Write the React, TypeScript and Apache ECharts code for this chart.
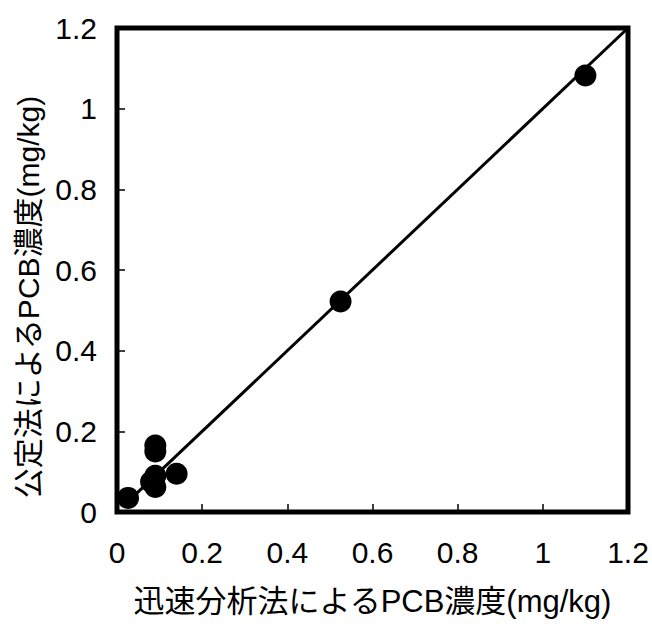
import React, { useEffect, useRef } from "react";
import * as echarts from "echarts";

const xTicks = [0, 0.2, 0.4, 0.6, 0.8, 1, 1.2];
const points: [number, number][] = [
  [0.026, 0.035],
  [0.08, 0.075],
  [0.09, 0.09],
  [0.09, 0.062],
  [0.09, 0.15],
  [0.09, 0.165],
  [0.14, 0.095],
  [0.525, 0.522],
  [1.1, 1.082],
];
const fitLine: [number, number][] = [
  [0.02, 0.02],
  [1.2, 1.2],
];
const xName = "迅速分析法によるPCB濃度(mg/kg)";
const yName = "公定法によるPCB濃度(mg/kg)";

const font = "'Liberation Sans Narrow', 'Liberation Sans', Arial, 'Noto Sans CJK JP', sans-serif";

export default function App() {
  const ref = useRef<HTMLDivElement>(null);
  useEffect(() => {
    if (!ref.current) return;
    const chart = echarts.init(ref.current, undefined, { renderer: "svg" });
    const axisCommon = {
      type: "value" as const,
      min: 0,
      max: 1.2,
      interval: 0.2,
      splitLine: { show: false },
      axisLine: { show: false },
      axisTick: { show: true, inside: true, length: 8, lineStyle: { color: "#000", width: 1.5 } },
      nameLocation: "middle" as const,
      nameTextStyle: { fontSize: 31, color: "#000", fontFamily: font },
    };
    chart.setOption({
      animation: false,
      backgroundColor: "#fff",
      grid: {
        left: 117,
        right: 24,
        top: 28,
        bottom: 112,
        show: true,
        borderWidth: 5,
        borderColor: "#000",
        backgroundColor: "transparent",
      },
      graphic: [
        {
          type: "text",
          x: 28,
          y: 297,
          rotation: Math.PI / 2,
          style: {
            text: yName,
            fontSize: 30,
            fontFamily: font,
            fill: "#000",
            align: "center",
            verticalAlign: "middle",
          },
        },
      ],
      xAxis: {
        ...axisCommon,
        name: xName,
        nameGap: 74,
        axisLabel: {
          fontSize: 30,
          color: "#000",
          fontFamily: font,
          margin: 25,
          formatter: (v: number) => String(xTicks.find((t) => Math.abs(t - v) < 1e-6) ?? v),
        },
      },
      yAxis: {
        ...axisCommon,
        axisLabel: {
          fontSize: 30,
          color: "#000",
          fontFamily: font,
          margin: 20,
        },
      },
      series: [
        {
          type: "line",
          data: fitLine,
          symbol: "none",
          lineStyle: { color: "#000", width: 3 },
          z: 2,
        },
        {
          type: "scatter",
          data: points,
          symbol: "circle",
          symbolSize: 22,
          itemStyle: { color: "#000", opacity: 1 },
          z: 3,
        },
      ],
    });
    return () => chart.dispose();
  }, []);
  return <div ref={ref} style={{ width: 652, height: 624, position: "absolute", left: 0, top: 0 }} />;
}
